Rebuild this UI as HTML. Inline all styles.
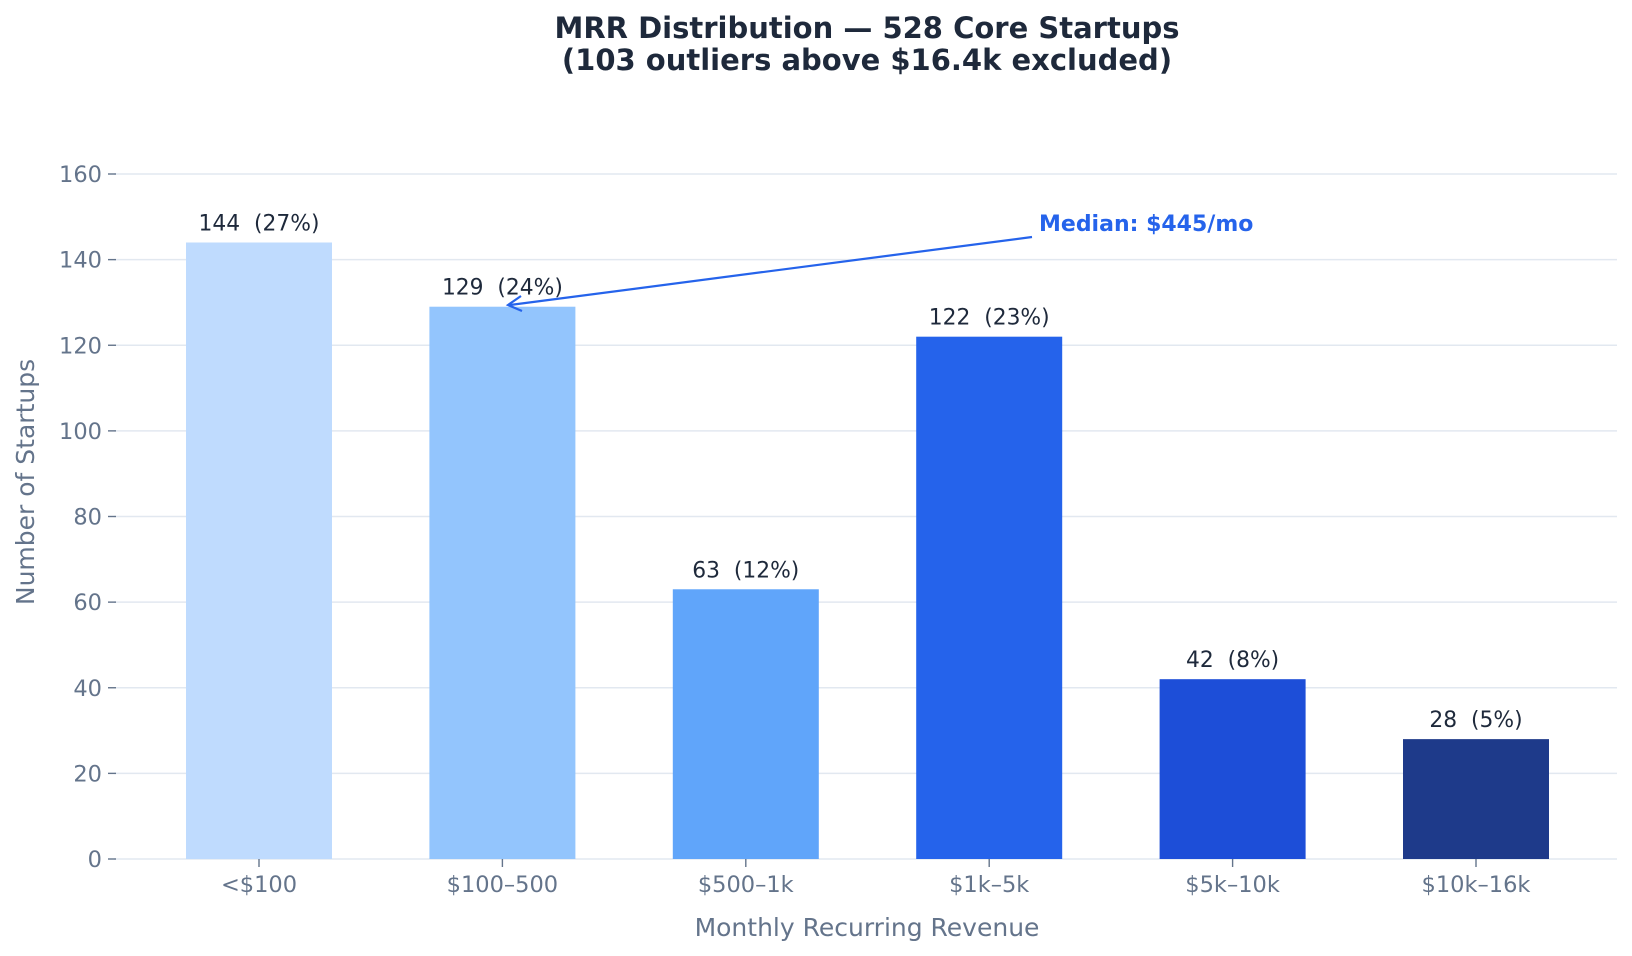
<!DOCTYPE html>
<html><head><meta charset="utf-8"><style>
html,body{margin:0;padding:0;background:#fff}
svg{display:block;font-family:"DejaVu Sans","Liberation Sans",sans-serif}
</style></head><body>
<svg id="chart" width="1632" height="956" viewBox="0 0 1632 956">
<g>
<text x="867" y="38" text-anchor="middle" font-size="29" font-weight="bold" fill="#1e293b">MRR Distribution — 528 Core Startups</text>
<text x="867" y="70" text-anchor="middle" font-size="29" font-weight="bold" fill="#1e293b">(103 outliers above $16.4k excluded)</text>
</g>
<g id="grid"></g>
<g id="yaxis"></g>
<g id="bars"></g>
<g id="xaxis"></g>
<text x="867" y="936" text-anchor="middle" font-size="25" fill="#64748b">Monthly Recurring Revenue</text>
<text transform="translate(34,482) rotate(-90)" text-anchor="middle" font-size="25" fill="#64748b">Number of Startups</text>
<g>
<line x1="1032" y1="237" x2="510" y2="305" stroke="#2563eb" stroke-width="2.2"/>
<polyline points="521,296 508,305 522,311" fill="none" stroke="#2563eb" stroke-width="2.2"/>
<text x="1039" y="231" font-size="22" font-weight="bold" fill="#2563eb">Median: $445/mo</text>
</g>
</svg>
<script>
const categories = ["<$100","$100–500","$500–1k","$1k–5k","$5k–10k","$10k–16k"];
const counts = [144,129,63,122,42,28];
const percents = ["27%","24%","12%","23%","8%","5%"];
const yTicks = [0,20,40,60,80,100,120,140,160];
const colors = ["#bfdbfe","#93c5fd","#60a5fa","#2563eb","#1d4ed8","#1e3a8a"];
const NS="http://www.w3.org/2000/svg";
const y0=859, yPer=(859-174)/160;
const yS=v=>y0-v*yPer;
const xS=i=>259+i*243.4;
const bw=146;
function mk(t,a,p){const e=document.createElementNS(NS,t);for(const k in a)e.setAttribute(k,a[k]);p.appendChild(e);return e;}
const grid=document.getElementById('grid'),ya=document.getElementById('yaxis'),bars=document.getElementById('bars'),xa=document.getElementById('xaxis');
yTicks.forEach(v=>{
  const g=mk('line',{x1:114,x2:1617,y1:yS(v),y2:yS(v),stroke:'#e2e8f0','stroke-width':1.6},grid);
  
  
  mk('line',{x1:108,x2:116,y1:yS(v),y2:yS(v),stroke:'#64748b','stroke-width':1.4},ya);
  const t=mk('text',{x:102,y:yS(v)+8,'text-anchor':'end','font-size':22.5,fill:'#64748b'},ya);
  t.textContent=v;
  
  
});
categories.forEach((c,i)=>{
  const x=xS(i);
  const r=mk('rect',{x:x-bw/2,y:yS(counts[i]),width:bw,height:y0-yS(counts[i]),fill:colors[i]},bars);
  
  
  const l=mk('text',{x:x,y:yS(counts[i])-12,'text-anchor':'middle','font-size':21.8,fill:'#1e293b'},bars);
  l.textContent=counts[i]+'\u00a0\u00a0('+percents[i]+')';
  
  
  mk('line',{x1:x,x2:x,y1:859,y2:867,stroke:'#64748b','stroke-width':1.4},xa);
  const t=mk('text',{x:x,y:892,'text-anchor':'middle','font-size':22.5,fill:'#64748b'},xa);
  t.textContent=c;
  
  
});
</script>
</body></html>
